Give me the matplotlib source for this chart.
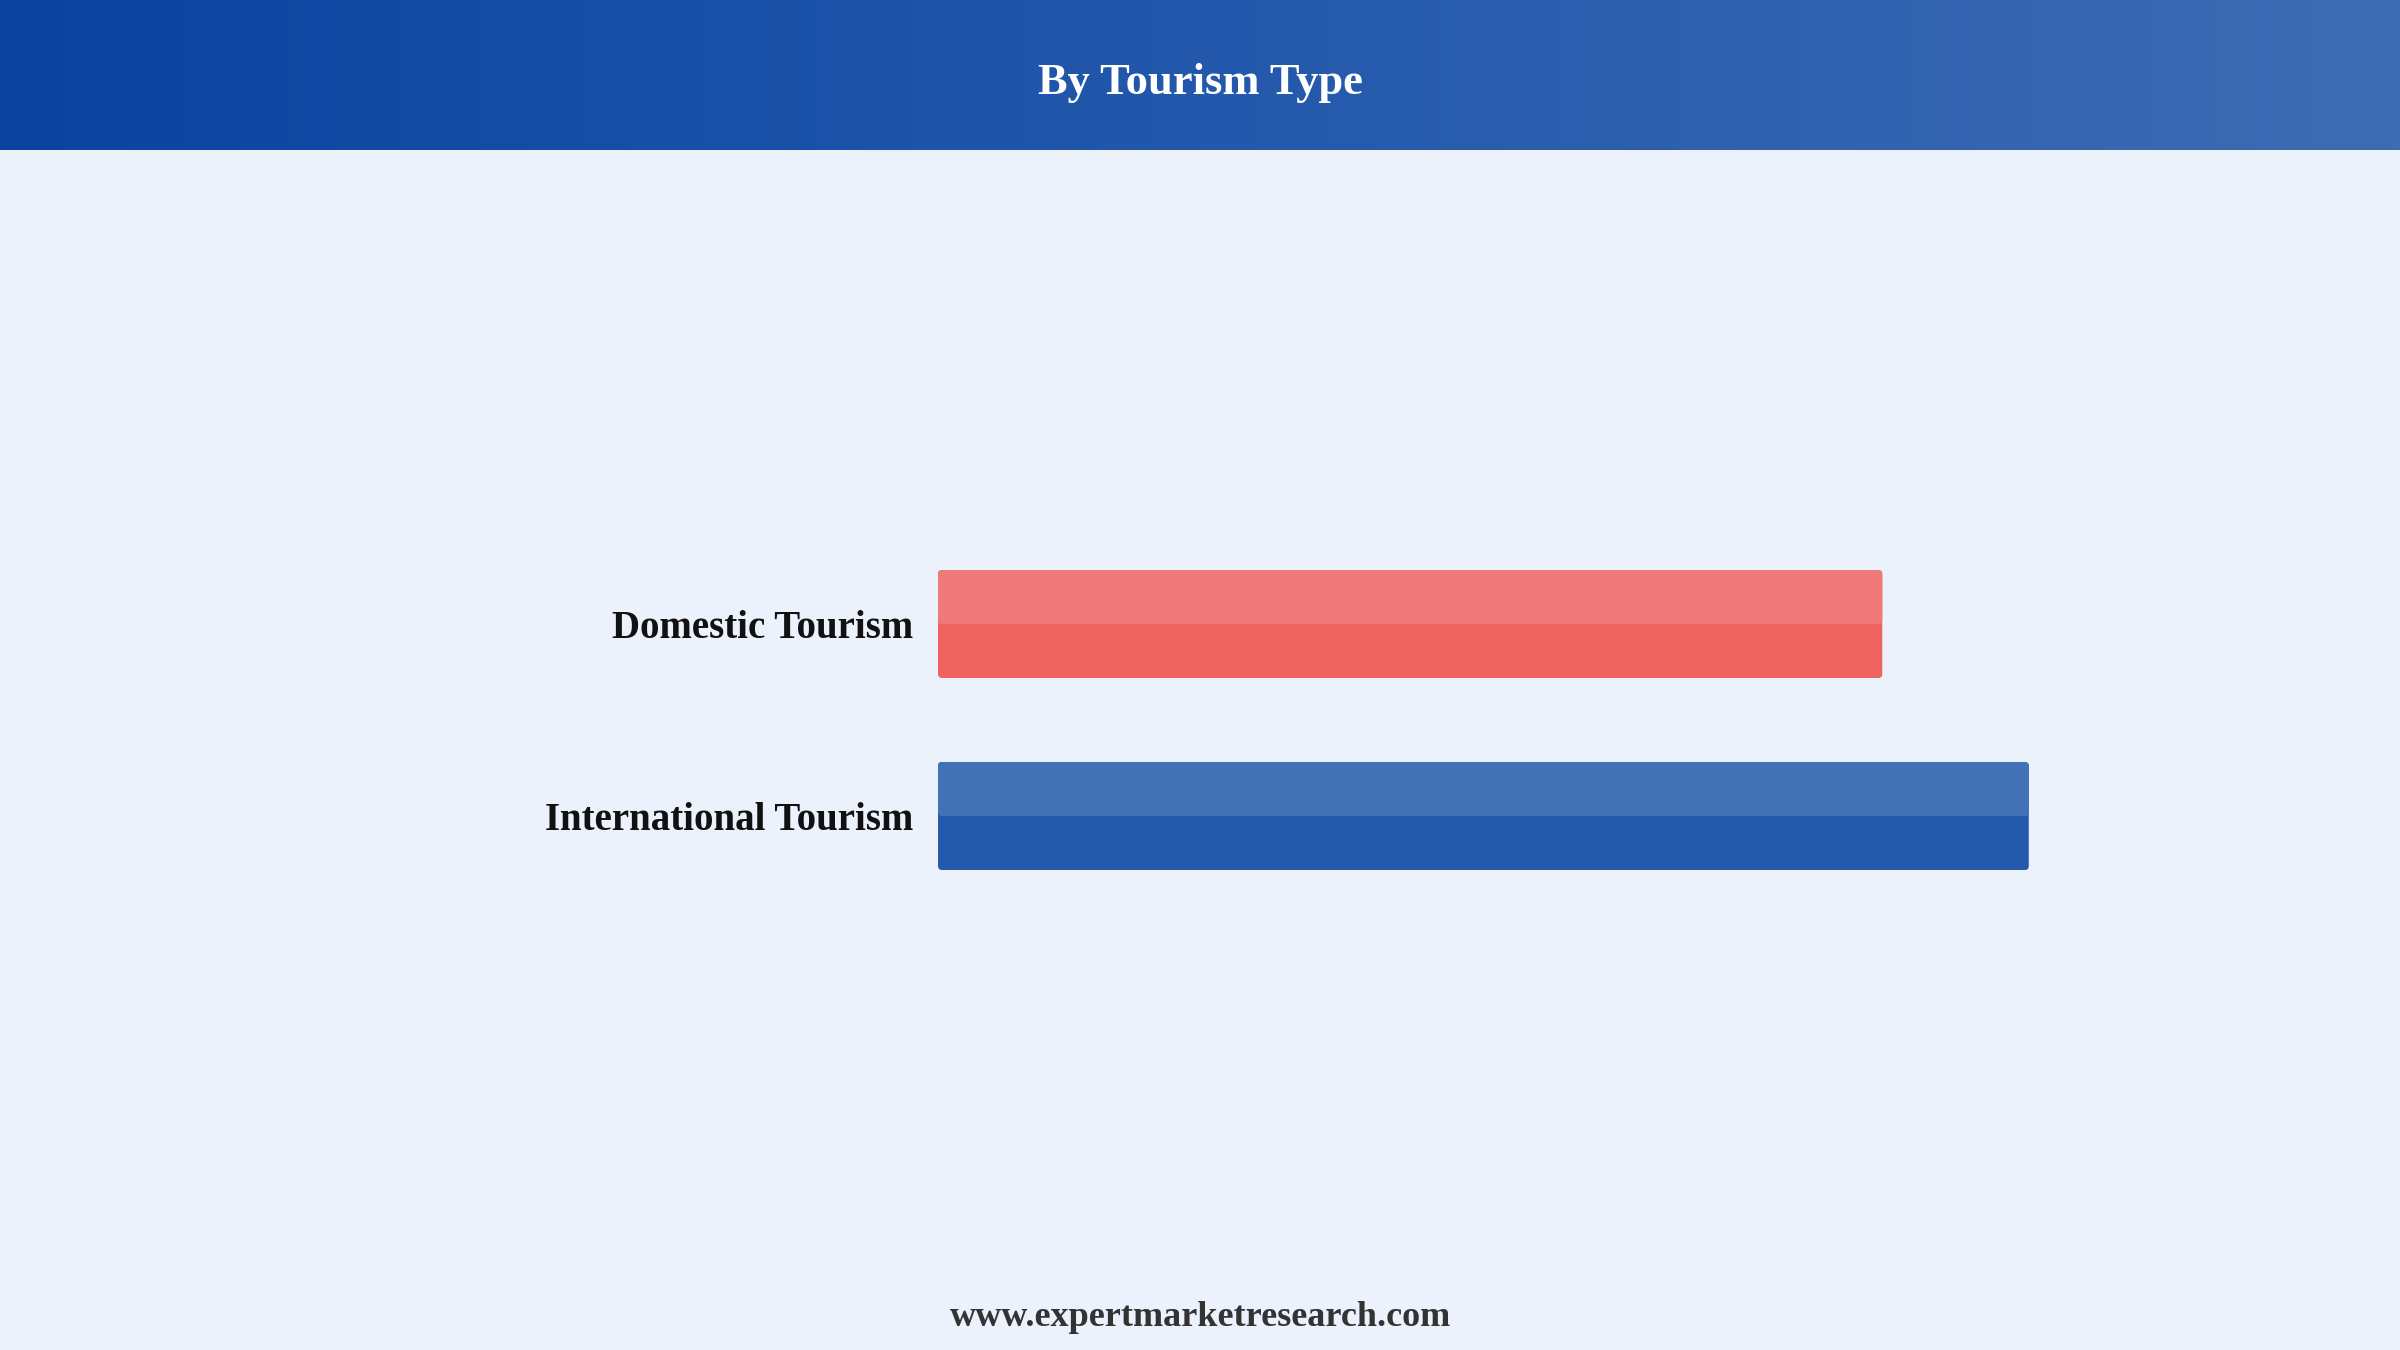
import numpy as np
import matplotlib
matplotlib.use("Agg")
import matplotlib.pyplot as plt
from matplotlib.colors import LinearSegmentedColormap
from matplotlib.patches import FancyBboxPatch

# Data
categories = ["Domestic Tourism", "International Tourism"]
values = [46.4, 53.6]
top_colors = ["#F07A7A", "#4472B6"]
bottom_colors = ["#EF6461", "#2459AB"]

title = "By Tourism Type"
footer = "www.expertmarketresearch.com"

BG = "#EBF2FC"
W, H = 2400, 1350
fig = plt.figure(figsize=(24, 13.5), dpi=100, facecolor=BG)

# Header band with gradient
hdr = fig.add_axes([0, 1 - 150 / H, 1, 150 / H])
cmap = LinearSegmentedColormap.from_list("hdr", ["#0A44A0", "#2358AC", "#3E6CB4"])
grad = np.linspace(0, 1, 512).reshape(1, -1)
hdr.imshow(grad, aspect="auto", cmap=cmap, extent=[0, 1, 0, 1])
hdr.set_xlim(0, 1)
hdr.set_ylim(0, 1)
hdr.axis("off")
fig.text(0.5, 1 - 83 / H, title, ha="center", va="center", color="white",
         fontsize=32, fontweight="bold", family="Liberation Serif")

# Bar axes
ax_w_px, ax_h_px = 1221, 384
ax = fig.add_axes([938 / W, 1 - 912 / H, ax_w_px / W, ax_h_px / H])
ax.set_facecolor(BG)
ypos = np.arange(len(categories))
h = 0.5625
xmax = 60
ax.set_xlim(0, xmax)
ax.set_ylim(len(categories) - 0.5, -0.5)
# full bar in the darker tone, lighter tone on the upper half
bars_full = ax.barh(ypos, values, height=h, color=bottom_colors, linewidth=0)
bars_top = ax.barh(ypos - h / 4, values, height=h / 2, color=top_colors, linewidth=0)

# replace with slightly rounded boxes
x_per_px = xmax / ax_w_px
y_per_px = len(categories) / ax_h_px
aspect = y_per_px / x_per_px
for p in list(bars_full) + list(bars_top):
    fb = FancyBboxPatch((p.get_x(), p.get_y()), p.get_width(), p.get_height(),
                        boxstyle=f"round,pad=0,rounding_size={4 * x_per_px}",
                        mutation_aspect=aspect, facecolor=p.get_facecolor(),
                        linewidth=0)
    p.set_visible(False)
    ax.add_patch(fb)

ax.set_yticks(ypos)
ax.set_yticklabels(categories, fontsize=28, fontweight="bold",
                   family="Liberation Serif", color="#111111")
ax.tick_params(axis="y", length=0, pad=18)
ax.set_xticks([])
for s in ax.spines.values():
    s.set_visible(False)

fig.text(0.5, 1 - 1318 / H, footer, ha="center", va="center", color="#333333",
         fontsize=26, fontweight="bold", family="Liberation Serif")

fig.savefig("out.png", dpi=100, facecolor=BG)
